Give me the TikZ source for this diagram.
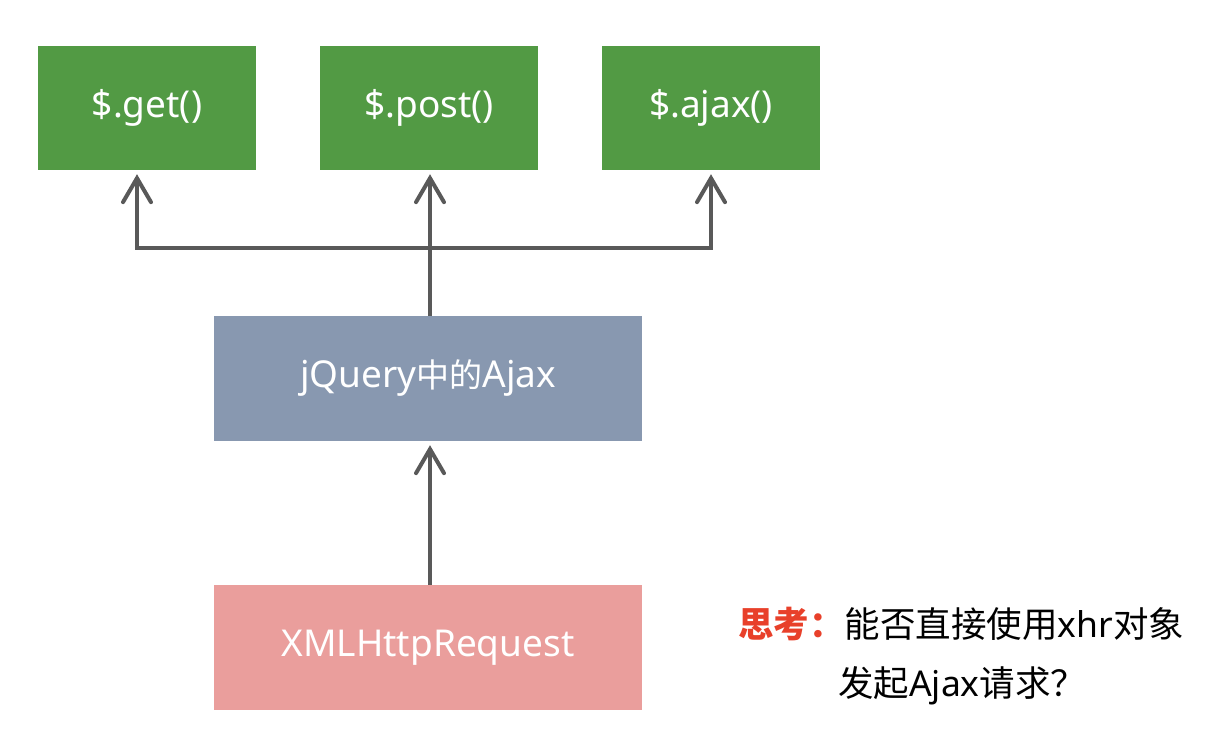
\documentclass[tikz,border=0pt]{standalone}
\usepackage{fontspec}
\setmainfont{Noto Sans}
\newfontfamily\cjk{Noto Sans CJK SC}
\usetikzlibrary{arrows.meta}
\definecolor{boxgreen}{HTML}{529A44}
\definecolor{boxblue}{HTML}{8898B0}
\definecolor{boxpink}{HTML}{EA9E9C}
\definecolor{linegray}{HTML}{595959}
\definecolor{thinkred}{HTML}{E8402A}
\tikzset{
  box/.style={minimum width=218pt, minimum height=124pt, inner sep=0pt, text=white, font=\fontsize{37}{44}\selectfont},
  widebox/.style={box, minimum width=428pt, minimum height=125pt},
  conn/.style={draw=linegray, line width=4pt, -{Straight Barb[length=24pt, width=28pt, line width=4pt, line cap=round]}},
  note/.style={anchor=west, inner sep=0pt, font=\fontsize{35.5}{40}\selectfont}
}
\begin{document}
\begin{tikzpicture}[x=1pt, y=-1pt]
\useasboundingbox (0,0) rectangle (1214,744);
\node[box, fill=boxgreen] (get) at (147,108) {\$.get()};
\node[box, fill=boxgreen] (post) at (429,108) {\$.post()};
\node[box, fill=boxgreen] (ajax) at (711,108) {\$.ajax()};
\node[widebox, fill=boxblue] (jq) at (428,378.5) {jQuery{\cjk\fontsize{33}{40}\selectfont 中的}Ajax};
\node[widebox, fill=boxpink] (xhr) at (428,647.5) {XMLHttpRequest};
\coordinate (jl) at (137,248);
\coordinate (jr) at (711,248);
\coordinate (jm) at (430,248);
\draw[conn] (jm) -| ([yshift=-4pt]get.south -| jl);
\draw[conn] (jm) -| ([yshift=-4pt]ajax.south -| jr);
\draw[conn] (jq.north -| jm) -- ([yshift=-4pt]post.south -| jm);
\draw[conn] (xhr.north -| jm) -- ([yshift=-4pt]jq.south -| jm);
\node[note] (t1) at (738,624) {{\cjk\color{thinkred}\bfseries 思考：}{\cjk 能否直接使用}xhr{\cjk 对象}};
\node[note] (t2) at (838,686) {{\cjk 发起}Ajax{\cjk 请求？}};
\end{tikzpicture}
\end{document}
